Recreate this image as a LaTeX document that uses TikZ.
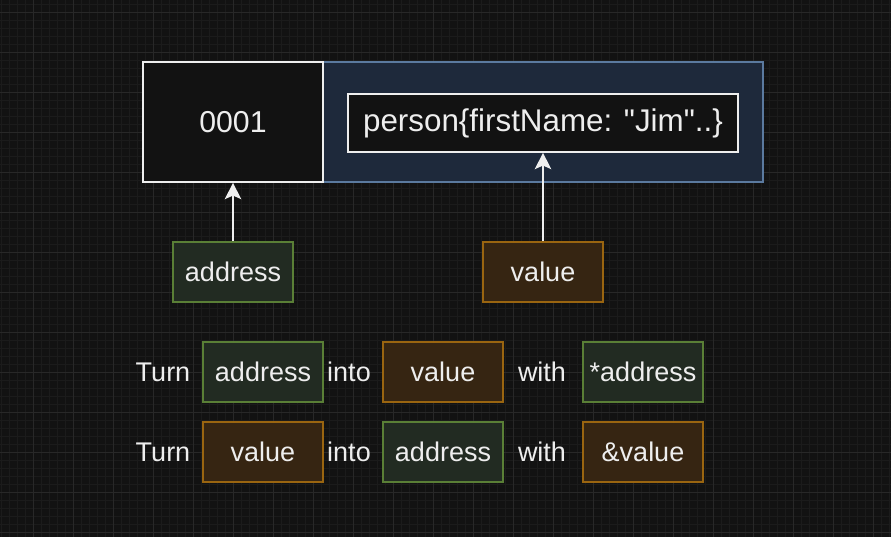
\documentclass[tikz,border=0pt]{standalone}
\usepackage{fontspec}
\setmainfont{Liberation Sans}
\usetikzlibrary{arrows.meta}

\definecolor{bgdark}{HTML}{121212}
\definecolor{gridminor}{HTML}{1B1B1B}
\definecolor{gridmajor}{HTML}{282828}
\definecolor{boxwhite}{HTML}{EEEEEE}
\definecolor{cellfill}{HTML}{1E293B}
\definecolor{cellborder}{HTML}{5B7A9F}
\definecolor{addrfill}{HTML}{222B22}
\definecolor{addrborder}{HTML}{5A7F36}
\definecolor{valfill}{HTML}{362512}
\definecolor{valborder}{HTML}{9A6510}

\begin{document}
\begin{tikzpicture}[x=0.025cm,y=-0.025cm,
        memtext/.style={text=boxwhite,font=\fontsize{21.5}{24}\selectfont},
        memcell/.style={memtext,draw=boxwhite,fill=bgdark,line width=1.2pt,inner sep=0pt},
        tagtext/.style={text=boxwhite,font=\fontsize{19.2}{22}\selectfont},
        addrtag/.style={tagtext,draw=addrborder,fill=addrfill,line width=1.1pt,minimum width=3cm,minimum height=1.5cm,inner sep=0pt},
        valtag/.style={tagtext,draw=valborder,fill=valfill,line width=1.1pt,minimum width=3cm,minimum height=1.5cm,inner sep=0pt},
        ptr/.style={draw=boxwhite,line width=2.1pt,-{Stealth[length=11.5pt,width=11.5pt,inset=2.5pt]}}]
        \useasboundingbox (0,0) rectangle (891,537);
        \fill[bgdark] (0,0) rectangle (891,537);

        % Background grid
        \foreach \x in {1,9,...,889} {
            \draw[gridminor,line width=0.4pt] (\x,0) -- (\x,537);
        }
        \foreach \y in {4,12,...,532} {
            \draw[gridminor,line width=0.4pt] (0,\y) -- (891,\y);
        }
        \foreach \x in {33,73,...,873} {
            \draw[gridmajor,line width=0.5pt] (\x,0) -- (\x,537);
        }
        \foreach \y in {12,52,...,532} {
            \draw[gridmajor,line width=0.5pt] (0,\y) -- (891,\y);
        }

        % Memory cell: address and stored value
        \node[draw=cellborder,fill=cellfill,line width=1.2pt,minimum width=11cm,minimum height=3cm] (cell) at (543,122) {};
        \node[memcell,minimum width=4.5cm,minimum height=3cm] (addr) at (233,122) {0001};
        \node[memcell,minimum width=9.75cm,minimum height=1.45cm,font=\fontsize{22.3}{25}\selectfont] (person) at (543,123) {person\{firstName: \textquotedbl Jim\textquotedbl..\}};

        % Labels pointing at the cell
        \node[addrtag] (addrlbl) at (233,272) {address};
        \node[valtag] (vallbl) at (543,272) {value};
        \draw[ptr] (addrlbl) -- (addr);
        \draw[ptr] (vallbl) -- (person);

        % Dereference
        \node[tagtext] (turnA) at (163,372) {Turn};
        \node[addrtag] (fromA) at (263,372) {address};
        \node[tagtext] (intoA) at (349,372) {into};
        \node[valtag] (toA) at (443,372) {value};
        \node[tagtext] (withA) at (542,372) {with};
        \node[addrtag] (opA) at (643,372) {*address};

        % Address-of
        \node[tagtext] (turnB) at (163,452) {Turn};
        \node[valtag] (fromB) at (263,452) {value};
        \node[tagtext] (intoB) at (349,452) {into};
        \node[addrtag] (toB) at (443,452) {address};
        \node[tagtext] (withB) at (542,452) {with};
        \node[valtag] (opB) at (643,452) {\&value};
\end{tikzpicture}
\end{document}
